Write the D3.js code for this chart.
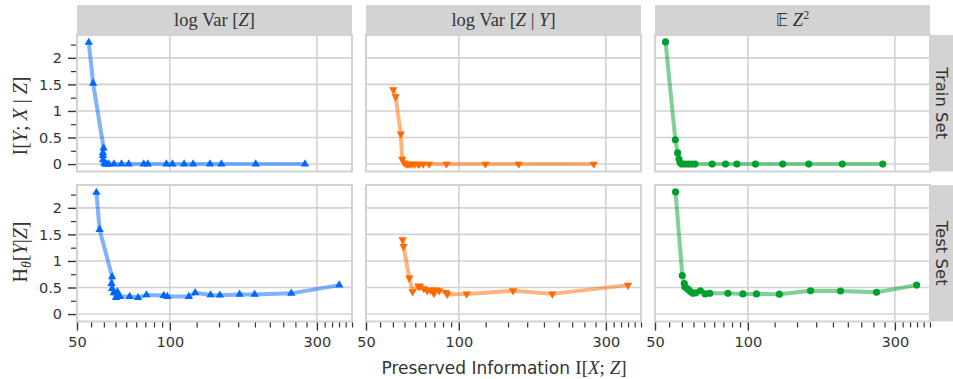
<!DOCTYPE html>
<html>
<head>
<meta charset="utf-8">
<script src="https://cdn.jsdelivr.net/npm/d3@7"></script>
<style>
  body { margin: 0; background: #fff; }
  text { fill: #333; }
</style>
</head>
<body>
<svg id="chart" width="953" height="379"></svg>
<script>
// ---- data ---------------------------------------------------------------
const rowTitles = ["Train Set", "Test Set"];
const xTickValues = [50, 100, 300];
const yTickValues = [0, 0.5, 1, 1.5, 2];
const yMinorValues = [0.25, 0.75, 1.25, 1.75, 2.25];

// log Var[Z] regulariser
const varZTrainX = [54.6, 56.4, 61.0, 60.7, 60.7, 60.7, 61.3, 61.8, 62.4, 63.4, 65.9, 69.7, 73.6, 82.3, 84.9, 97.5, 102, 111.3, 119, 135, 147, 190, 274.5];
const varZTrainY = [2.29, 1.52, 0.30, 0.21, 0.16, 0.08, 0.02, 0.0, 0.0, 0.0, 0.0, 0.0, 0.0, 0.0, 0.0, 0.0, 0.0, 0.0, 0.0, 0.0, 0.0, 0.0, 0.0];
const varZTestX = [57.8, 59.2, 65.0, 64.7, 65.0, 65.8, 66.9, 67.6, 68.2, 68.9, 74.1, 78.9, 84.0, 95.6, 98.2, 115.3, 120.9, 135.6, 145.3, 168.4, 188.4, 247.8, 354.6];
const varZTestY = [2.29, 1.59, 0.70, 0.575, 0.48, 0.40, 0.31, 0.42, 0.36, 0.33, 0.33, 0.31, 0.36, 0.35, 0.33, 0.33, 0.40, 0.36, 0.355, 0.37, 0.37, 0.39, 0.545];

// log Var[Z | Y] regulariser
const varZYTrainX = [61.3, 62.4, 64.8, 65.5, 66.5, 67.7, 68.5, 69.4, 70.5, 72.0, 73.8, 74.5, 76.6, 80.1, 91.2, 122, 156.4, 274];
const varZYTrainY = [1.40, 1.27, 0.57, 0.094, 0.02, 0.0, 0.0, 0.0, 0.0, 0.0, 0.0, 0.0, 0.0, 0.0, 0.0, 0.0, 0.0, 0.0];
const varZYTestX = [65.7, 66.2, 69.1, 70.8, 73.9, 74.8, 77.0, 79.0, 80.9, 83.0, 84.0, 86.3, 90.8, 91.8, 106, 150, 201, 354];
const varZYTestY = [1.40, 1.275, 0.68, 0.42, 0.53, 0.52, 0.48, 0.44, 0.455, 0.39, 0.455, 0.44, 0.41, 0.375, 0.38, 0.44, 0.38, 0.545];

// E Z^2 regulariser
const ez2TrainX = [54.1, 58.2, 59.2, 59.8, 60.3, 61.0, 62.5, 64.1, 65.7, 67.4, 76.6, 84.7, 92.2, 105.9, 129.8, 157.6, 202.5, 274];
const ez2TrainY = [2.30, 0.457, 0.21, 0.094, 0.03, 0.0, 0.0, 0.0, 0.0, 0.0, 0.0, 0.0, 0.0, 0.0, 0.0, 0.0, 0.0, 0.0];
const ez2TestX = [58.3, 61.3, 62.2, 62.5, 63.6, 64.3, 65.3, 66.3, 67.8, 70.2, 72.7, 75.3, 86.2, 96.4, 106.7, 126.6, 159.8, 200, 261.6, 353];
const ez2TestY = [2.30, 0.726, 0.575, 0.51, 0.48, 0.455, 0.42, 0.39, 0.40, 0.44, 0.38, 0.39, 0.39, 0.38, 0.38, 0.375, 0.44, 0.435, 0.41, 0.545];

// ---- layout -------------------------------------------------------------
const colLeft = [77, 366, 655];
const rowTop = [35, 185];
const panelW = 275, panelH = 136.5;
const stripH = 30;

const columns = [
  { color: "#0066ff", marker: "up",     train: [varZTrainX, varZTrainY],   test: [varZTestX, varZTestY] },
  { color: "#ff6a00", marker: "down",   train: [varZYTrainX, varZYTrainY], test: [varZYTestX, varZYTestY] },
  { color: "#00a030", marker: "circle", train: [ez2TrainX, ez2TrainY],     test: [ez2TestX, ez2TestY] }
];

// minor ticks: linear subdivisions between the log-spaced labels
const xMinorValues = [];
for (let k = 1; k <= 8; k++) xMinorValues.push(50 + k * 50 / 9);
for (let k = 1; k <= 8; k++) xMinorValues.push(100 + k * 200 / 9);
for (let k = 1; k <= 5; k++) xMinorValues.push(300 + k * 18);

const x = d3.scaleLog().domain([50, 390]).range([0, panelW]);
const y = d3.scaleLinear().domain([-0.14, 2.43]).range([panelH, 0]);

const svg = d3.select("#chart");
const gridColor = "#d2d2d2";
const serif = "'Liberation Serif', 'DejaVu Serif', serif";
const sans = "'DejaVu Sans', sans-serif";

columns.forEach((col, ci) => {
  [col.train, col.test].forEach((series, ri) => {
    const g = svg.append("g").attr("transform", `translate(${colLeft[ci]},${rowTop[ri]})`);

    // background + grid
    g.append("rect").attr("width", panelW).attr("height", panelH).attr("fill", "#fff");
    g.selectAll(".gy").data(yTickValues).join("line")
      .attr("x1", 0).attr("x2", panelW)
      .attr("y1", d => y(d)).attr("y2", d => y(d))
      .attr("stroke", gridColor).attr("stroke-width", 1.6);
    g.selectAll(".gx").data(xTickValues).join("line")
      .attr("x1", d => x(d)).attr("x2", d => x(d))
      .attr("y1", 0).attr("y2", panelH)
      .attr("stroke", gridColor).attr("stroke-width", 1.6);

    // data
    const pts = series[0].map((v, i) => [v, series[1][i]]);
    const line = d3.line().x(d => x(d[0])).y(d => y(d[1]));
    g.append("path").datum(pts).attr("d", line)
      .attr("fill", "none").attr("stroke", col.color)
      .attr("stroke-opacity", 0.5).attr("stroke-width", 4)
      .attr("stroke-linejoin", "round").attr("stroke-linecap", "round");

    const sym = col.marker === "circle" ? d3.symbol(d3.symbolCircle, 40) : d3.symbol(d3.symbolTriangle, 30);
    g.selectAll(".pt").data(pts).join("path")
      .attr("d", sym)
      .attr("transform", d => `translate(${x(d[0])},${y(d[1])})` + (col.marker === "down" ? " rotate(180)" : ""))
      .attr("fill", col.color);

    // frame
    g.append("rect").attr("width", panelW).attr("height", panelH)
      .attr("fill", "none").attr("stroke", gridColor).attr("stroke-width", 2);

    // y axis on the first column
    if (ci === 0) {
      const ya = d3.axisLeft(y).tickValues(yTickValues).tickSize(8).tickPadding(6)
        .tickFormat(d => d3.format("~g")(d));
      const yg = g.append("g").attr("transform", "translate(-1,0)").call(ya);
      yg.select(".domain").remove();
      yg.selectAll(".tick line").attr("stroke", "#333").attr("stroke-width", 1.4);
      yg.selectAll(".tick text").attr("font-family", sans).attr("font-size", 14.5).attr("fill", "#333");
      const ym = d3.axisLeft(y).tickValues(yMinorValues).tickSize(5).tickFormat("");
      const ymg = g.append("g").attr("transform", "translate(-1,0)").call(ym);
      ymg.select(".domain").remove();
      ymg.selectAll(".tick line").attr("stroke", "#333").attr("stroke-width", 1.2);
    }

    // x axis on the bottom row
    if (ri === 1) {
      const xa = d3.axisBottom(x).tickValues(xTickValues).tickSize(8).tickPadding(6)
        .tickFormat(d3.format("d"));
      const xg = g.append("g").attr("transform", `translate(0,${panelH + 1})`).call(xa);
      xg.select(".domain").remove();
      xg.selectAll(".tick line").attr("stroke", "#333").attr("stroke-width", 1.4);
      xg.selectAll(".tick text").attr("font-family", sans).attr("font-size", 14.5).attr("fill", "#333");
      const xm = d3.axisBottom(x).tickValues(xMinorValues).tickSize(5).tickFormat("");
      const xmg = g.append("g").attr("transform", `translate(0,${panelH + 1})`).call(xm);
      xmg.select(".domain").remove();
      xmg.selectAll(".tick line").attr("stroke", "#333").attr("stroke-width", 1.2);
    }
  });
});

// ---- column strips --------------------------------------------------------
function addMath(textSel, parts) {
  parts.forEach(p => {
    const t = textSel.append("tspan").text(p.t);
    if (p.i) t.attr("font-style", "italic");
    if (p.f) t.attr("font-family", p.f);
    if (p.s) t.attr("font-size", p.s);
    if (p.dy) t.attr("dy", p.dy);
  });
}

const stripTitles = [
  [{ t: "log Var " }, { t: "[" }, { t: "Z", i: 1 }, { t: "]" }],
  [{ t: "log Var " }, { t: "[" }, { t: "Z", i: 1 }, { t: " | " }, { t: "Y", i: 1 }, { t: "]" }],
  [{ t: "𝔼", f: sans, s: 17 }, { t: " Z", i: 1 }, { t: "2", s: 12, dy: -7 }]
];

colLeft.forEach((cx, ci) => {
  svg.append("rect").attr("x", cx).attr("y", rowTop[0] - stripH)
    .attr("width", panelW).attr("height", stripH).attr("fill", "#d3d3d3");
  const t = svg.append("text").attr("x", cx + panelW / 2).attr("y", rowTop[0] - 9)
    .attr("text-anchor", "middle").attr("font-family", serif).attr("font-size", 18.5);
  addMath(t, stripTitles[ci]);
});

// ---- row strips -----------------------------------------------------------
rowTitles.forEach((name, ri) => {
  svg.append("rect").attr("x", colLeft[2] + panelW).attr("y", rowTop[ri])
    .attr("width", 30).attr("height", panelH).attr("fill", "#d3d3d3");
  svg.append("text")
    .attr("transform", `translate(${colLeft[2] + panelW + 6},${rowTop[ri] + panelH / 2}) rotate(90)`)
    .attr("text-anchor", "middle").attr("font-family", sans).attr("font-size", 16.5)
    .text(name);
});

// ---- axis titles ------------------------------------------------------------
const yTitleTop = svg.append("text")
  .attr("transform", `translate(27,116) rotate(-90)`)
  .attr("text-anchor", "middle").attr("font-family", serif).attr("font-size", 20);
addMath(yTitleTop, [{ t: "I[" }, { t: "Y", i: 1 }, { t: "; " }, { t: "X", i: 1 }, { t: " | " }, { t: "Z", i: 1 }, { t: "]" }]);

const yTitleBottom = svg.append("text")
  .attr("transform", `translate(27,252) rotate(-90)`)
  .attr("text-anchor", "middle").attr("font-family", serif).attr("font-size", 20);
addMath(yTitleBottom, [{ t: "H" }, { t: "θ", i: 1, s: 14, dy: 4 }, { t: "[", dy: -4 }, { t: "Y", i: 1 }, { t: "|" }, { t: "Z", i: 1 }, { t: "]" }]);

const xTitle = svg.append("text")
  .attr("x", 504).attr("y", 374)
  .attr("text-anchor", "middle").attr("font-family", sans).attr("font-size", 17);
addMath(xTitle, [{ t: "Preserved Information " }, { t: "I[", f: serif, s: 19 }, { t: "X", i: 1, f: serif, s: 19 }, { t: "; ", f: serif, s: 19 }, { t: "Z", i: 1, f: serif, s: 19 }, { t: "]", f: serif, s: 19 }]);
</script>
</body>
</html>
